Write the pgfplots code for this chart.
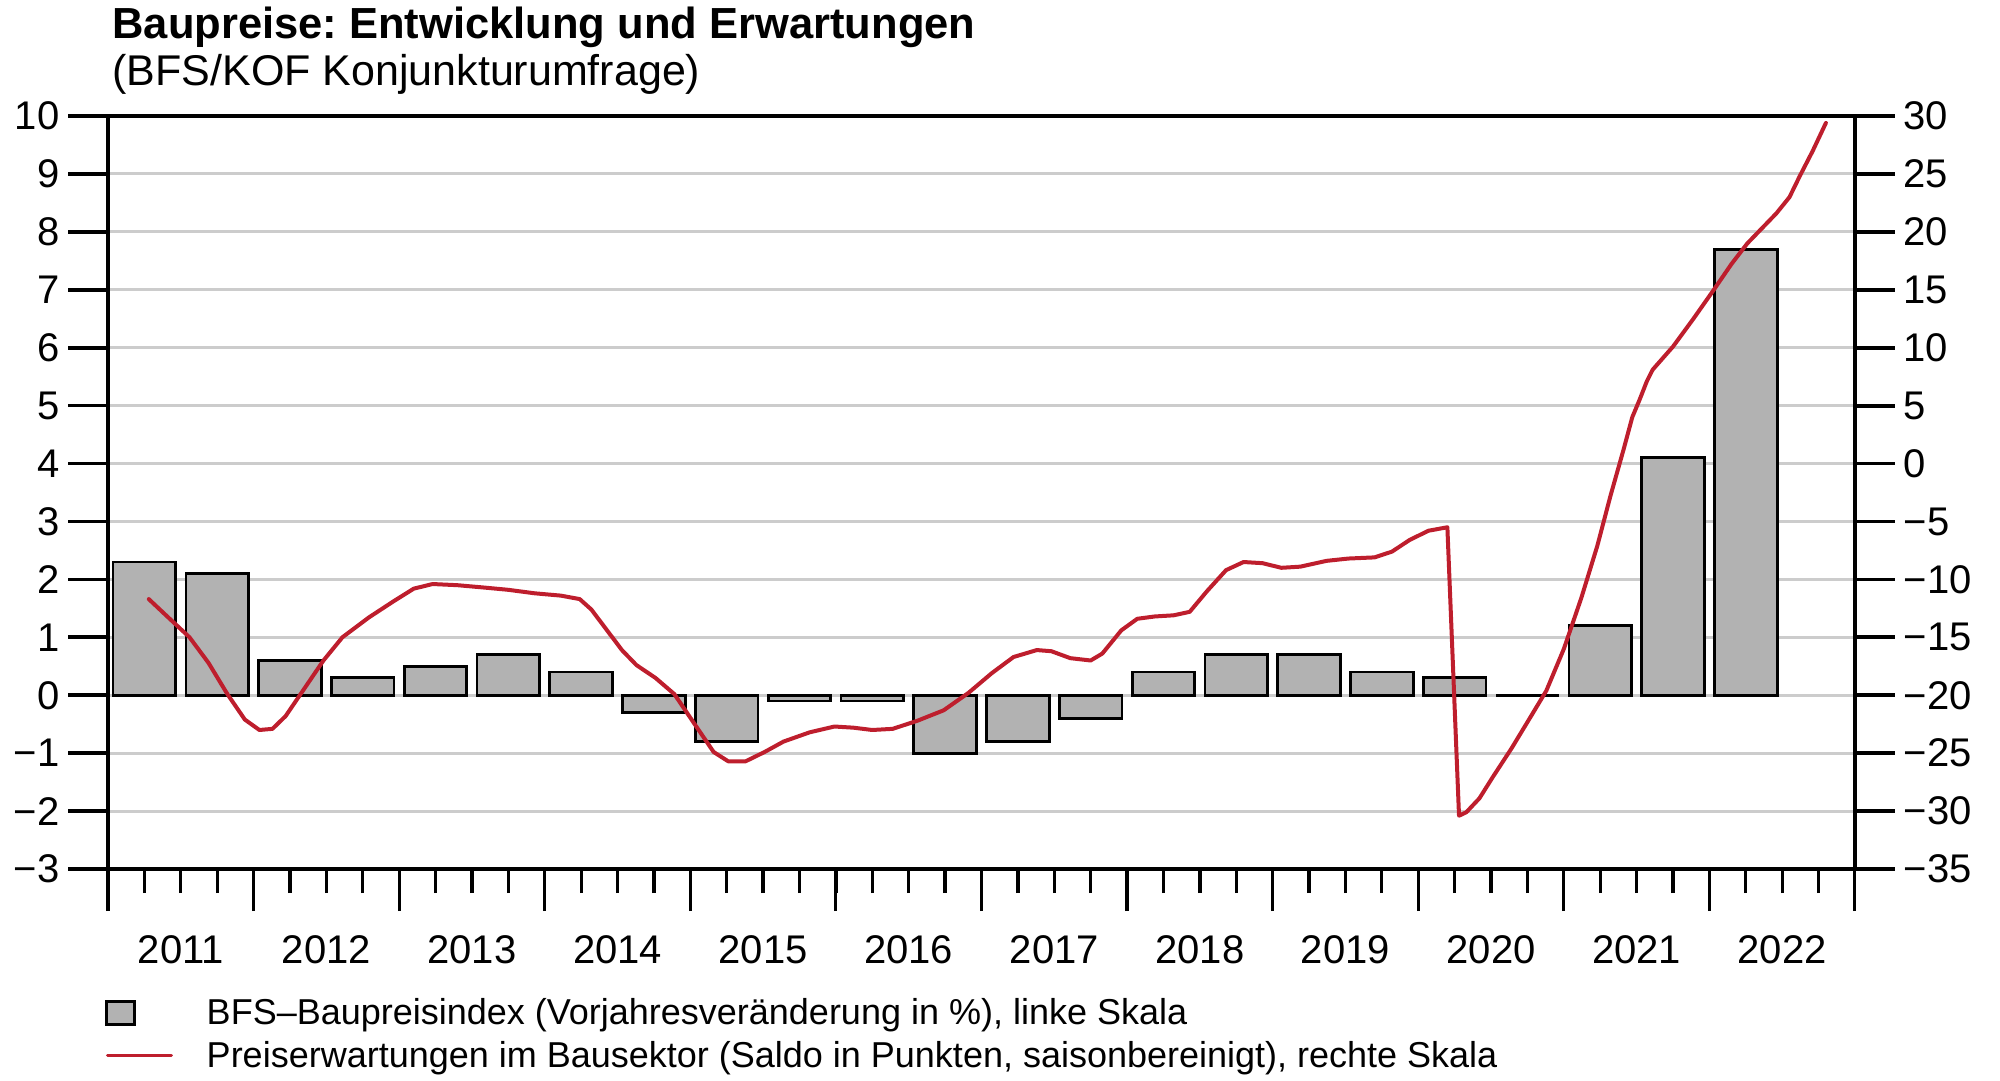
\documentclass[border=0pt]{standalone}
\usepackage{pgfplots}
\pgfplotsset{compat=1.18}
\usepackage{fontspec}
\setmainfont{Liberation Sans}
\frenchspacing
\definecolor{barfill}{RGB}{178,178,178}
\definecolor{gridgray}{RGB}{204,204,204}
\definecolor{linered}{RGB}{190,30,45}
\begin{document}
\begin{tikzpicture}
\useasboundingbox (-43.2pt,-84.4pt) rectangle (756.8pt,347.6pt);
\pgfplotsset{
  base/.style={scale only axis, width=698.8pt, height=301.2pt, xmin=2011, xmax=2023,
    axis line style={line width=1.6pt}, tick align=outside,
    ticklabel style={font=\fontsize{16}{19}\selectfont}},
}
% grid, bars, x ticks
\begin{axis}[base, ymin=-3, ymax=10, ytick={-3,...,10}, yticklabels={}, ytick style={draw=none},
  ymajorgrids, grid style={gridgray, line width=1.2pt},
  xtick={2011,...,2023}, xticklabels={}, xtick pos=left,
  minor xtick={2011.25,2011.5,...,2022.8},
  major tick length=16.8pt, minor tick length=9.6pt,
  xtick style={line width=1.3pt, black},
  every minor tick/.append style={line width=0.9pt, black}]
\addplot[ybar, bar width=0.43, fill=barfill, draw=black, line width=1.1pt] coordinates {
(2011.25,2.3) (2011.75,2.1) (2012.25,0.6) (2012.75,0.3) (2013.25,0.5) (2013.75,0.7)
(2014.25,0.4) (2014.75,-0.3) (2015.25,-0.8) (2015.75,-0.1) (2016.25,-0.1) (2016.75,-1.0)
(2017.25,-0.8) (2017.75,-0.4) (2018.25,0.4) (2018.75,0.7) (2019.25,0.7) (2019.75,0.4)
(2020.25,0.3) (2020.75,0.0) (2021.25,1.2) (2021.75,4.1) (2022.25,7.7)};
\end{axis}
% left scale + year labels
\begin{axis}[base, ymin=-3, ymax=10, ytick={-3,...,10},
  yticklabels={−3,−2,−1,0,1,2,3,4,5,6,7,8,9,10}, ytick pos=left,
  major tick length=16pt, ytick style={line width=1.5pt, black},
  xtick={2011.5,2012.5,...,2022.5},
  xticklabels={2011,2012,2013,2014,2015,2016,2017,2018,2019,2020,2021,2022},
  xtick style={draw=none}, xticklabel style={anchor=base, yshift=-21.8pt}]
\end{axis}
% right scale + line + legend
\begin{axis}[base, ymin=-35, ymax=30, ytick={-35,-30,...,30},
  yticklabels={−35,−30,−25,−20,−15,−10,−5,0,5,10,15,20,25,30}, ytick pos=right,
  major tick length=16pt, ytick style={line width=1.5pt, black}, xtick=\empty,
  legend cell align=left,
  legend style={at={(0,0)}, anchor=north west, xshift=-1.6pt, yshift=-51.6pt,
    draw=none, fill=none, inner sep=0pt, row sep=3.2pt, column sep=11.3pt,
    font=\fontsize{14.4}{17}\selectfont,
    nodes={inner sep=0pt, text height=10.5pt, text depth=3.2pt}}]
\addlegendimage{legend image code/.code={
  \draw[fill=barfill, draw=black, line width=1.1pt] (0pt,-3.65pt) rectangle (11.2pt,5.55pt);
  \path (0pt,0pt) (28pt,0pt);}}
\addlegendentry{BFS–Baupreisindex (Vorjahresveränderung in \%), linke Skala}
\addplot[linered, line width=1.6pt, line join=round, line cap=round, legend image code/.code={
  \draw[linered, line width=1.2pt] (0.4pt,1.15pt) -- (26pt,1.15pt);
  \path (0pt,0pt) (28pt,0pt);}] coordinates {
(2011.28,-11.7) (2011.39,-13.0) (2011.56,-15.0) (2011.69,-17.2) (2011.82,-19.9)
(2011.94,-22.1) (2012.04,-23.0) (2012.13,-22.9) (2012.22,-21.8) (2012.35,-19.4)
(2012.48,-17.0) (2012.61,-15.0) (2012.79,-13.3) (2012.96,-11.9) (2013.10,-10.8)
(2013.23,-10.4) (2013.40,-10.5) (2013.58,-10.7) (2013.75,-10.9) (2013.93,-11.2)
(2014.11,-11.4) (2014.24,-11.7) (2014.32,-12.6) (2014.41,-14.1) (2014.53,-16.1)
(2014.63,-17.4) (2014.76,-18.5) (2014.89,-19.9) (2015.03,-22.5) (2015.16,-24.9)
(2015.26,-25.7) (2015.38,-25.7) (2015.51,-24.9) (2015.64,-24.0) (2015.82,-23.2)
(2015.99,-22.7) (2016.12,-22.8) (2016.25,-23.0) (2016.39,-22.9) (2016.56,-22.2)
(2016.74,-21.3) (2016.91,-19.8) (2017.07,-18.1) (2017.22,-16.7) (2017.38,-16.1)
(2017.48,-16.2) (2017.61,-16.8) (2017.75,-17.0) (2017.83,-16.4) (2017.96,-14.4)
(2018.07,-13.4) (2018.19,-13.2) (2018.32,-13.1) (2018.43,-12.8) (2018.55,-11.0)
(2018.68,-9.2) (2018.80,-8.5) (2018.93,-8.6) (2019.06,-9.0) (2019.19,-8.9)
(2019.37,-8.4) (2019.52,-8.2) (2019.70,-8.1) (2019.82,-7.6) (2019.94,-6.6)
(2020.07,-5.8) (2020.20,-5.5) (2020.28,-30.4) (2020.33,-30.1) (2020.42,-28.9)
(2020.51,-27.1) (2020.64,-24.6) (2020.77,-21.9) (2020.88,-19.6) (2021.00,-16.0)
(2021.12,-11.6) (2021.23,-7.1) (2021.32,-2.8) (2021.41,1.2) (2021.47,4.0)
(2021.52,5.5) (2021.57,7.1) (2021.61,8.1) (2021.68,9.1) (2021.75,10.1)
(2021.89,12.5) (2022.03,15.0) (2022.15,17.2) (2022.26,19.0) (2022.36,20.3)
(2022.46,21.6) (2022.55,23.0) (2022.62,24.8) (2022.71,27.0) (2022.80,29.4)};
\addlegendentry{Preiserwartungen im Bausektor (Saldo in Punkten, saisonbereinigt), rechte Skala}
\end{axis}
\node[anchor=base west, inner sep=0pt, font=\bfseries\fontsize{17.4}{20}\selectfont] at (1.6pt,332.2pt) {Baupreise: Entwicklung und Erwartungen};
\node[anchor=base west, inner sep=0pt, font=\fontsize{17.2}{20}\selectfont] at (1.6pt,313.3pt) {(BFS/KOF Konjunkturumfrage)};
\end{tikzpicture}
\end{document}
